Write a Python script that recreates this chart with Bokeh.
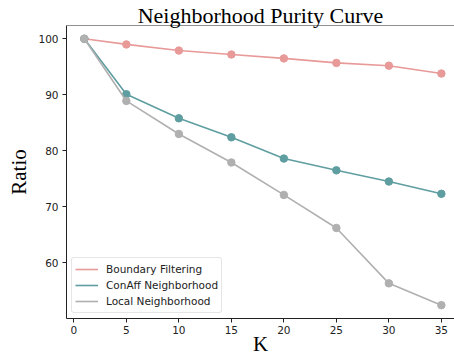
from bokeh.plotting import figure
from bokeh.models import Legend, LegendItem, Span, FixedTicker, Range1d
from bokeh.embed import file_html
from bokeh.resources import INLINE

# ---- data ----
k_values = [1, 5, 10, 15, 20, 25, 30, 35]
boundary_filtering = [100.0, 99.0, 97.9, 97.2, 96.5, 95.7, 95.2, 93.8]
conaff_neighborhood = [100.0, 90.1, 85.8, 82.4, 78.6, 76.5, 74.5, 72.3]
local_neighborhood = [100.0, 88.9, 83.0, 77.9, 72.1, 66.2, 56.3, 52.4]
series_names = ["Boundary Filtering", "ConAff Neighborhood", "Local Neighborhood"]
series_colors = ["#E89A99", "#5F9EA0", "#B0B0B0"]
x_ticks = [0, 5, 10, 15, 20, 25, 30, 35]
y_ticks = [60, 70, 80, 90, 100]
title_text = "Neighborhood Purity Curve"
x_label = "K"
y_label = "Ratio"

# ---- ranges (matplotlib-like 5% margins on y) ----
all_y = boundary_filtering + conaff_neighborhood + local_neighborhood
y_lo, y_hi = min(all_y), max(all_y)
y_pad = 0.05 * (y_hi - y_lo)
y_start, y_end = y_lo - y_pad, y_hi + y_pad
x_start, x_end = -0.7, 36.25

p = figure(width=454, height=360, output_backend="svg", toolbar_location=None,
           x_range=Range1d(x_start, x_end), y_range=Range1d(y_start, y_end),
           min_border_left=66, min_border_right=0,
           min_border_top=25, min_border_bottom=42)
p.outline_line_color = None
p.xgrid.visible = False
p.ygrid.visible = False
p.background_fill_color = "white"
p.border_fill_color = "white"

p.title.text = title_text
p.title.text_font = "Liberation Serif"
p.title.text_font_size = "22px"
p.title.text_font_style = "normal"
p.title.text_color = "black"
p.title.align = "center"
p.title.text_line_height = 0.7
p.title.standoff = -4
p.title.offset = 0

for ax in (p.xaxis, p.yaxis):
    ax.axis_line_color = "#222222"
    ax.axis_line_width = 1
    ax.major_tick_line_color = "#222222"
    ax.major_tick_out = 4
    ax.major_tick_in = 0
    ax.minor_tick_line_color = None
    ax.major_label_text_font = "DejaVu Sans"
    ax.major_label_text_font_size = "10.5px"
    ax.major_label_text_color = "#222222"
    ax.axis_label_text_font = "Liberation Serif"
    ax.axis_label_text_font_size = "21px"
    ax.axis_label_text_font_style = "normal"
    ax.axis_label_text_color = "black"

p.xaxis.ticker = FixedTicker(ticks=x_ticks)
p.yaxis.ticker = FixedTicker(ticks=y_ticks)
p.xaxis.major_label_standoff = 3
p.yaxis.major_label_standoff = 4
p.xaxis.axis_label = x_label
p.xaxis.axis_label_standoff = -5
p.yaxis.axis_label = y_label
p.yaxis.axis_label_standoff = 4

# top spine
p.add_layout(Span(location=y_end, dimension="width", line_color="#222222", line_width=1))

items = []
for ys, name, color in zip([boundary_filtering, conaff_neighborhood, local_neighborhood],
                           series_names, series_colors):
    line = p.line(k_values, ys, line_color=color, line_width=1.6)
    p.scatter(k_values, ys, size=7.5, fill_color=color, line_color=color)
    items.append(LegendItem(label=name, renderers=[line]))

legend = Legend(items=items, location="bottom_left")
legend.margin = 5
legend.padding = 3
legend.spacing = 0
legend.label_height = 16
legend.glyph_height = 16
legend.glyph_width = 23
legend.label_standoff = 8
legend.label_text_font = "DejaVu Sans"
legend.label_text_font_size = "10.5px"
legend.label_text_color = "#222222"
legend.border_line_color = "#CCCCCC"
legend.border_line_width = 1
legend.border_radius = 3
legend.background_fill_alpha = 0.8
p.add_layout(legend)

open("out.html", "w").write(file_html(p, INLINE))
